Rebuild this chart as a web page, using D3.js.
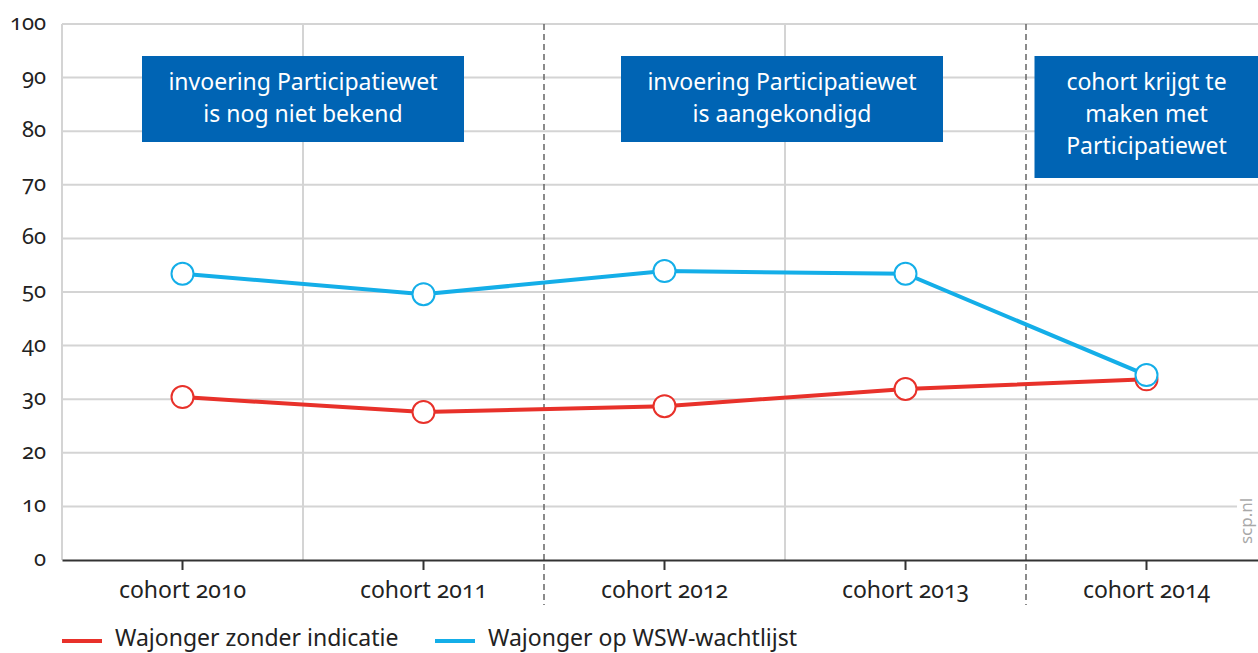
<!DOCTYPE html>
<html>
<head>
<meta charset="utf-8">
<script src="https://cdn.jsdelivr.net/npm/d3@7"></script>
<style>
  body { margin: 0; background: #fff; }
  svg text { font-family: "Noto Sans", "Open Sans", sans-serif; font-feature-settings: "onum"; }
</style>
</head>
<body>
<div id="container"></div>
<script>
// values
const cohorts = ["cohort 2010", "cohort 2011", "cohort 2012", "cohort 2013", "cohort 2014"]
const zonderIndicatie = [30.4, 27.6, 28.7, 31.9, 33.7]
const wswWachtlijst = [53.4, 49.6, 53.9, 53.4, 34.5]
const yTicks = [0, 10, 20, 30, 40, 50, 60, 70, 80, 90, 100]
const seriesNames = ["Wajonger zonder indicatie", "Wajonger op WSW-wachtlijst"]
const periodLabels = [
  ["invoering Participatiewet", "is nog niet bekend"],
  ["invoering Participatiewet", "is aangekondigd"],
  ["cohort krijgt te", "maken met", "Participatiewet"]
]

// constants
const width = 1258,
  height = 653,
  margin = { top: 24, bottom: 93, left: 62, right: -9 }
const colors = ["#e8312a", "#14aee8"]
const boxBlue = "#0064b4"

const svg = d3.select("#container")
  .append("svg")
  .attr("width", width)
  .attr("height", height)

// scales
const xScale = d3.scaleBand()
  .domain(cohorts)
  .range([margin.left, width - margin.right])
  .padding(0)

const yScale = d3.scaleLinear()
  .domain([0, 100])
  .range([height - margin.bottom, margin.top])

const bw = xScale.bandwidth()

// horizontal gridlines
svg.append("g")
  .selectAll("line")
  .data(yTicks.filter(d => d > 0))
  .join("line")
  .attr("x1", margin.left)
  .attr("x2", d => d == 10 ? 1237 : width)
  .attr("y1", d => yScale(d))
  .attr("y2", d => yScale(d))
  .attr("stroke", "#d4d4d4")
  .attr("stroke-width", 2)

// y axis line (light)
svg.append("line")
  .attr("x1", margin.left).attr("x2", margin.left)
  .attr("y1", yScale(100)).attr("y2", yScale(0))
  .attr("stroke", "#d4d4d4")
  .attr("stroke-width", 2)

// vertical gridlines at band boundaries: solid between, dashed at period changes
const boundaries = cohorts.slice(1)
svg.append("g")
  .selectAll("line")
  .data(boundaries)
  .join("line")
  .attr("x1", d => xScale(d))
  .attr("x2", d => xScale(d))
  .attr("y1", yScale(100))
  .attr("y2", (d, i) => i % 2 == 0 ? yScale(0) : 605)
  .attr("stroke", (d, i) => i % 2 == 0 ? "#d4d4d4" : "#666")
  .attr("stroke-width", (d, i) => i % 2 == 0 ? 2 : 1.5)
  .attr("stroke-dasharray", (d, i) => i % 2 == 0 ? null : "6,4")

// y tick labels
svg.append("g")
  .selectAll("text")
  .data(yTicks)
  .join("text")
  .attr("x", 46)
  .attr("y", d => yScale(d) + 6)
  .attr("text-anchor", "end")
  .attr("font-size", 22)
  .attr("fill", "#222")
  .text(d => d)

// x axis
const xAxis = d3.axisBottom(xScale)
  .tickSize(10)
  .tickSizeOuter(0)
  .tickPadding(0)

const xAxisGroup = svg.append("g")
  .attr("transform", `translate(0, ${yScale(0)})`)
  .call(xAxis)

xAxisGroup.select(".domain")
  .attr("stroke", "#333")
  .attr("stroke-width", 2)
xAxisGroup.selectAll(".tick line")
  .attr("stroke", "#333")
  .attr("stroke-width", 2)
xAxisGroup.selectAll(".tick text")
  .attr("y", 38)
  .attr("dy", 0)
  .attr("font-size", 23)
  .attr("fill", "#222")
  .attr("font-family", null)

// annotation boxes
const boxes = [
  { cx: xScale(cohorts[1]), w: 322, h: 86 },
  { cx: xScale(cohorts[3]) - 3, w: 322, h: 86 },
  { cx: xScale(cohorts[4]) + bw / 2, w: 224, h: 122 }
]
const boxG = svg.append("g")
  .selectAll("g")
  .data(boxes)
  .join("g")
  .attr("transform", d => `translate(${d.cx}, 56)`)

boxG.append("rect")
  .attr("x", d => -d.w / 2)
  .attr("width", d => d.w)
  .attr("height", d => d.h)
  .attr("fill", boxBlue)

boxG.append("text")
  .attr("text-anchor", "middle")
  .attr("fill", "#fff")
  .attr("font-size", 23)
  .selectAll("tspan")
  .data((d, i) => periodLabels[i])
  .join("tspan")
  .attr("x", 0)
  .attr("y", (d, i) => 34 + i * 32)
  .text(d => d)

// lines and markers
const lineGen = d3.line()
  .x((d, i) => xScale(cohorts[i]) + bw / 2)
  .y(d => yScale(d))

const series = [zonderIndicatie, wswWachtlijst]

svg.selectAll(".line")
  .data(series)
  .join("path")
  .attr("class", "line")
  .attr("fill", "none")
  .attr("stroke", (d, i) => colors[i])
  .attr("stroke-width", 4)
  .attr("d", d => lineGen(d))

series.forEach((s, si) => {
  svg.append("g")
    .selectAll("circle")
    .data(s)
    .join("circle")
    .attr("cx", (d, i) => xScale(cohorts[i]) + bw / 2)
    .attr("cy", d => yScale(d))
    .attr("r", 11)
    .attr("fill", "#fff")
    .attr("stroke", colors[si])
    .attr("stroke-width", 2)
})

// legend
const legendX = [62, 435]
const legend = svg.append("g")
  .selectAll("g")
  .data(seriesNames)
  .join("g")
  .attr("transform", (d, i) => `translate(${legendX[i]}, 641)`)

legend.append("line")
  .attr("x1", 0).attr("x2", 40)
  .attr("stroke", (d, i) => colors[i])
  .attr("stroke-width", 4)

legend.append("text")
  .attr("x", 53)
  .attr("y", 5)
  .attr("font-size", 23)
  .attr("fill", "#222")
  .text(d => d)

// source
svg.append("text")
  .attr("transform", "translate(1252, 521) rotate(-90)")
  .attr("text-anchor", "middle")
  .attr("font-size", 17)
  .attr("fill", "#a8a8a8")
  .text("scp.nl")
</script>
</body>
</html>
